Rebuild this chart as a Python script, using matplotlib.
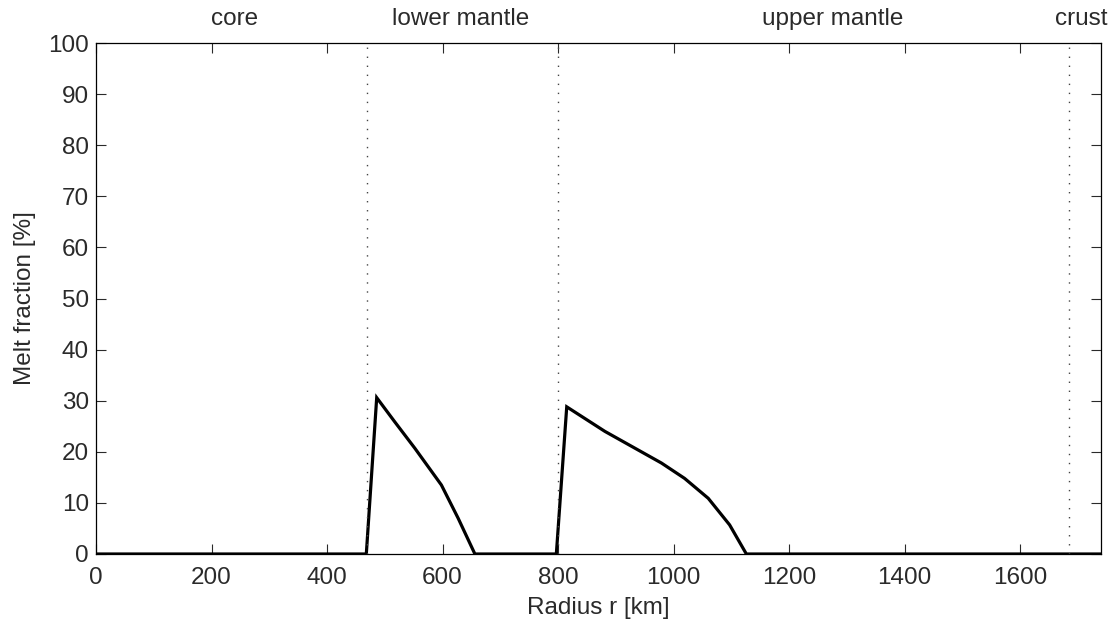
import matplotlib
matplotlib.use("Agg")
import matplotlib.pyplot as plt

# --- data ---
radius_km = [0, 468, 486, 517, 552, 575, 598, 627, 656,
             797, 815, 881, 979, 1019, 1060, 1097, 1126, 1740]
melt_pct = [0, 0, 30.6, 25.9, 20.7, 17.1, 13.5, 7.0, 0,
            0, 28.8, 24.0, 17.8, 14.8, 10.9, 5.7, 0, 0]

boundaries = [470, 800, 1684]
layer_names = ["core", "lower mantle", "upper mantle", "crust"]
layer_pos = [240, 632, 1275, 1705]

plt.rcParams["font.family"] = ["Liberation Sans", "DejaVu Sans"]
fs = 17.5
txt_col = "#2a2a2a"

fig = plt.figure(figsize=(11.2, 6.28), dpi=100)
ax = fig.add_axes([96 / 1120, 74 / 628, 1005 / 1120, 511 / 628])

ax.plot(radius_km, melt_pct, color="black", lw=2.3, solid_joinstyle="miter")
for b in boundaries:
    ax.axvline(b, color="#444444", lw=1.0, linestyle=(0, (1, 5.5)))

for name, x in zip(layer_names, layer_pos):
    ax.annotate(name, xy=(x, 1), xycoords=("data", "axes fraction"),
                xytext=(0, 13), textcoords="offset points",
                ha="center", va="baseline", fontsize=fs, color=txt_col)

ax.set_xlim(0, 1740)
ax.set_ylim(0, 100)
ax.set_xticks(range(0, 1601, 200))
ax.set_yticks(range(0, 101, 10))
ax.tick_params(direction="in", length=7, width=0.8, top=True, right=True,
               labelsize=fs, colors=txt_col, pad=5)
ax.tick_params(axis="x", pad=9)
for sp in ax.spines.values():
    sp.set_linewidth(0.9)

ax.set_xlabel("Radius r [km]", fontsize=fs, color=txt_col, labelpad=6)
ax.set_ylabel("Melt fraction [%]", fontsize=fs, color=txt_col, labelpad=9)

fig.savefig("out.png", dpi=100)
